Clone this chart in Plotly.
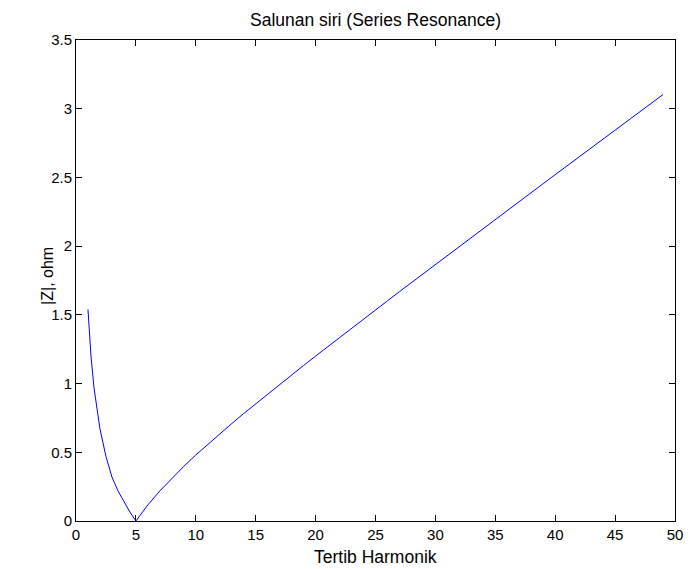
import plotly.graph_objects as go

# Harmonic order (x) and impedance magnitude |Z| in ohm (y)
harmonic = [1, 1.25, 1.5, 1.75, 2, 2.5, 3, 3.5, 4, 4.5, 5,
            6, 7, 8, 9, 10, 11, 12, 13, 14, 15, 16, 17, 18, 19, 20,
            21, 22, 23, 24, 25, 26, 27, 28, 29, 30, 31, 32, 33, 34, 35,
            36, 37, 38, 39, 40, 41, 42, 43, 44, 45, 46, 47, 48, 49]
z_mag = [1.54, 1.20, 0.97, 0.81, 0.67, 0.47, 0.32, 0.22, 0.14, 0.065, 0.0,
         0.117, 0.219, 0.312, 0.398, 0.480, 0.558, 0.635, 0.709, 0.782, 0.853,
         0.924, 0.994, 1.063, 1.132, 1.200, 1.268, 1.335, 1.402, 1.469, 1.536,
         1.602, 1.669, 1.735, 1.801, 1.867, 1.932, 1.998, 2.063, 2.129, 2.194,
         2.260, 2.325, 2.390, 2.455, 2.520, 2.585, 2.650, 2.715, 2.780, 2.844,
         2.909, 2.974, 3.039, 3.103]

x_ticks = [0, 5, 10, 15, 20, 25, 30, 35, 40, 45, 50]
x_tick_labels = ["0", "5", "10", "15", "20", "25", "30", "35", "40", "45", "50"]
y_ticks = [0, 0.5, 1, 1.5, 2, 2.5, 3, 3.5]
y_tick_labels = ["0", "0.5", "1", "1.5", "2", "2.5", "3", "3.5"]

title_text = "Salunan siri (Series Resonance)"
x_label = "Tertib Harmonik"
y_label = "|Z|, ohm"

FONT = "Liberation Sans Narrow, Arial Narrow, Liberation Sans, Arial, sans-serif"

fig = go.Figure()
fig.add_trace(go.Scatter(x=harmonic, y=z_mag, mode="lines",
                         line=dict(color="#0000ff", width=1),
                         showlegend=False, hoverinfo="skip"))

W, H = 693, 569
L, R, T, B = 75.5, 10, 40, 48
PLOT_W = W - L - R
PLOT_H = H - T - B

axis_common = dict(showline=True, linecolor="black", linewidth=1, mirror="allticks",
                   ticks="inside", ticklen=6, tickcolor="black", tickwidth=1,
                   showgrid=False, zeroline=False,
                   tickfont=dict(family=FONT, size=15, color="black"))

fig.update_layout(
    width=W, height=H,
    margin=dict(l=L, r=R, t=T, b=B, pad=0),
    paper_bgcolor="white", plot_bgcolor="white",
    xaxis=dict(range=[0, 50], tickvals=x_ticks, ticktext=x_tick_labels, **axis_common),
    yaxis=dict(range=[0, 3.5], tickvals=y_ticks, ticktext=y_tick_labels, **axis_common),
    annotations=[
        dict(text=title_text, xref="paper", yref="paper", x=0.5,
             y=(PLOT_H + T - 20) / PLOT_H,
             xanchor="center", yanchor="middle", showarrow=False,
             font=dict(family=FONT, size=17.5, color="black")),
        dict(text=x_label, xref="paper", yref="paper", x=0.5,
             y=-(557 - (H - B)) / PLOT_H,
             xanchor="center", yanchor="middle", showarrow=False,
             font=dict(family=FONT, size=17.5, color="black")),
        dict(text=y_label, xref="paper", yref="paper", x=(46 - L) / PLOT_W,
             y=(H - B - 276) / PLOT_H,
             xanchor="center", yanchor="middle", showarrow=False, textangle=-90,
             font=dict(family=FONT, size=16, color="black")),
    ],
)

fig.write_html("out.html")
